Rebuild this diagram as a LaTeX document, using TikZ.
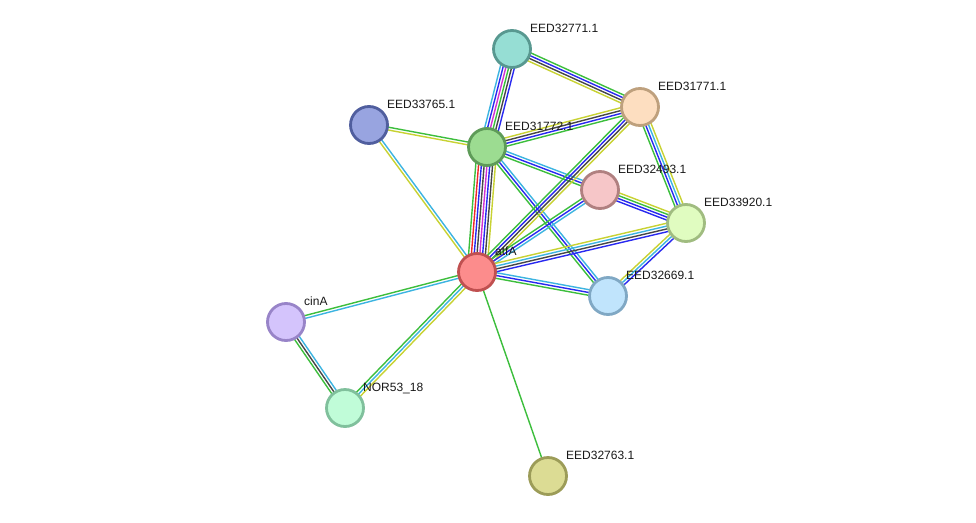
\documentclass[tikz,border=0pt]{standalone}
\usepackage{fontspec}
\setmainfont{Liberation Sans}
\usetikzlibrary{calc,backgrounds}
\definecolor{cgreen}{RGB}{60,190,60}
\definecolor{cblue}{RGB}{40,40,240}
\definecolor{ccyan}{RGB}{60,180,225}
\definecolor{cblack}{RGB}{70,70,70}
\definecolor{cyel}{RGB}{200,210,50}
\definecolor{cmag}{RGB}{210,50,210}
\definecolor{cred}{RGB}{240,40,40}
\definecolor{f71}{RGB}{150,222,212}\definecolor{d71}{RGB}{88,152,144}
\definecolor{f31}{RGB}{253,222,192}\definecolor{d31}{RGB}{190,160,125}
\definecolor{f65}{RGB}{152,164,224}\definecolor{d65}{RGB}{80,94,158}
\definecolor{f72}{RGB}{156,220,145}\definecolor{d72}{RGB}{94,155,88}
\definecolor{f93}{RGB}{246,198,200}\definecolor{d93}{RGB}{176,128,128}
\definecolor{f20}{RGB}{224,252,192}\definecolor{d20}{RGB}{160,188,128}
\definecolor{fatf}{RGB}{252,140,140}\definecolor{datf}{RGB}{192,80,80}
\definecolor{f69}{RGB}{192,228,252}\definecolor{d69}{RGB}{128,168,196}
\definecolor{fcin}{RGB}{212,196,252}\definecolor{dcin}{RGB}{152,132,200}
\definecolor{fnor}{RGB}{192,252,216}\definecolor{dnor}{RGB}{128,192,156}
\definecolor{f63}{RGB}{220,220,148}\definecolor{d63}{RGB}{156,156,88}
\tikzset{
  prot/.style={circle, minimum size=37pt, inner sep=0pt, line width=2.8pt},
  lbl/.style={anchor=base west, inner sep=0pt, font=\fontsize{12}{14}\selectfont, text=black!90},
  edge/.style={line width=1.4pt}
}
\newcommand\bundle[3]{%
  \gdef\bcount{0}%
  \foreach \cc in {#3}{\xdef\bcount{\the\numexpr\bcount+1\relax}}%
  \foreach \cc [count=\ii] in {#3}{%
    \pgfmathsetmacro\off{((\bcount+1)/2-\ii)*2.8}%
    \draw[edge,\cc] ($(#1.center)!\off pt!90:(#2.center)$) -- ($(#2.center)!\off pt!-90:(#1.center)$);
  }}
\newcommand\prot[4]{% name, x, y, label
  \node[prot, fill=f#1, draw=d#1] (#1) at (#2,#3) {};
  \node[lbl] (#1-l) at (#2+18,#3-17) {#4};
}
\begin{document}
\begin{tikzpicture}[x=1pt,y=-1pt]
\useasboundingbox (0,0) rectangle (976,522);
\prot{71}{512}{49}{EED32771.1}
\prot{31}{640}{107}{EED31771.1}
\prot{65}{369}{125}{EED33765.1}
\prot{72}{487}{147}{EED31772.1}
\prot{93}{600}{190}{EED32493.1}
\prot{20}{686}{223}{EED33920.1}
\prot{atf}{477}{272}{atfA}
\prot{69}{608}{296}{EED32669.1}
\prot{cin}{286}{322}{cinA}
\prot{nor}{345}{408}{NOR53\_18}
\prot{63}{548}{476}{EED32763.1}
\begin{pgfonlayer}{background}
\fill[white] (0,0) rectangle (976,522);
\bundle{71}{31}{cgreen,cblue,cblack,cyel}
\bundle{71}{72}{cblue,cblack,cgreen,cmag,cblue,ccyan}
\bundle{72}{31}{cyel,cblack,cblue,cgreen}
\bundle{72}{93}{ccyan,cblue,cgreen}
\bundle{72}{69}{ccyan,cblue,cgreen}
\bundle{72}{atf}{cyel,cblack,cblue,cmag,cblack,cblue,cred,cgreen}
\bundle{65}{72}{cgreen,cyel}
\bundle{65}{atf}{ccyan,cyel}
\bundle{31}{atf}{cyel,cblack,cblue,cgreen}
\bundle{31}{20}{cyel,ccyan,cblue,cgreen}
\bundle{93}{20}{cyel,cgreen,cblue,cblue}
\bundle{93}{atf}{ccyan,cblue,cgreen}
\bundle{atf}{20}{cyel,ccyan,cblack,cblue}
\bundle{atf}{69}{ccyan,cblue,cgreen}
\bundle{20}{69}{cblue,ccyan,cyel}
\bundle{atf}{cin}{ccyan,cgreen}
\bundle{atf}{nor}{cyel,ccyan,cgreen}
\bundle{cin}{nor}{ccyan,cblack,cgreen}
\bundle{atf}{63}{cgreen}
\end{pgfonlayer}
\end{tikzpicture}
\end{document}
